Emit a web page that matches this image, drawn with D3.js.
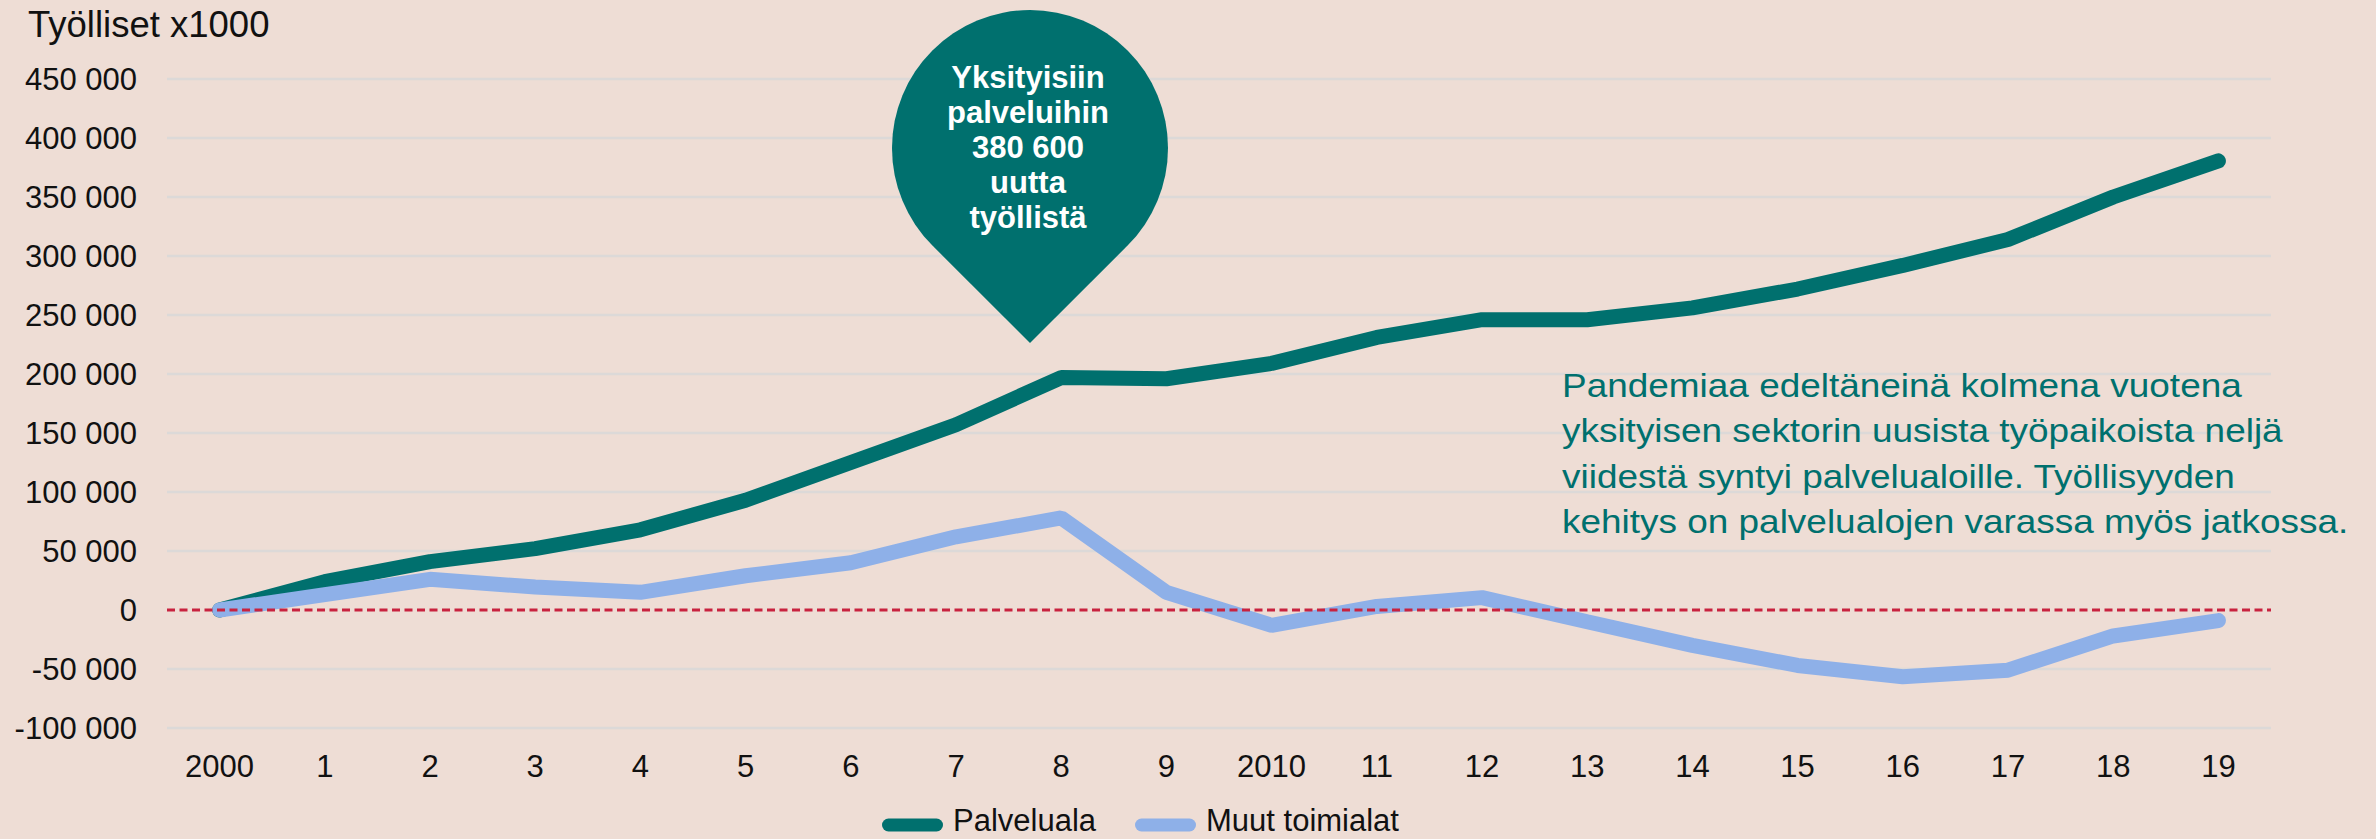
<!DOCTYPE html>
<html>
<head>
<meta charset="utf-8">
<script src="https://cdn.jsdelivr.net/npm/d3@7"></script>
<style>
  html, body { margin: 0; padding: 0; background: #EEDDD5; }
  svg { display: block; font-family: "Liberation Sans", Arial, sans-serif; }
</style>
</head>
<body>
<div id="chart"></div>
<script>
// Työlliset x1000: palveluala vs muut toimialat, muutos vuodesta 2000
const years = ["2000", "1", "2", "3", "4", "5", "6", "7", "8", "9",
               "2010", "11", "12", "13", "14", "15", "16", "17", "18", "19"];
const palveluala = [0, 24000, 41000, 52000, 68000, 93000, 125000, 157000, 197000, 196000,
                    209000, 231000, 246000, 246000, 256000, 272000, 292000, 314000, 350000, 380600];
const muut = [0, 13000, 26000, 19500, 15000, 29000, 40000, 62000, 78000, 15000,
              -13000, 3000, 10500, -10000, -30000, -47000, -56500, -51000, -22000, -9000];
const yTicks = [-100000, -50000, 0, 50000, 100000, 150000, 200000, 250000, 300000, 350000, 400000, 450000];
const seriesNames = ["Palveluala", "Muut toimialat"];
const pinLines = ["Yksityisiin", "palveluihin", "380 600", "uutta", "työllistä"];
const noteLines = [
  "Pandemiaa edeltäneinä kolmena vuotena",
  "yksityisen sektorin uusista työpaikoista neljä",
  "viidestä syntyi palvelualoille. Työllisyyden",
  "kehitys on palvelualojen varassa myös jatkossa."
];

const width = 2376;
const height = 839;
const teal = "#00706E";
const blue = "#8EB0E8";

const fi = d3.formatLocale({ decimal: ",", thousands: " ", grouping: [3], currency: ["", ""], minus: "-" });
const fmt = fi.format(",d");

const svg = d3.select("#chart")
    .append("svg")
    .attr("width", width)
    .attr("height", height);

svg.append("rect")
    .attr("width", width)
    .attr("height", height)
    .attr("fill", "#EEDDD5");

const x = d3.scalePoint()
    .domain(years)
    .range([167, 2271])
    .padding(0.5);

const y = d3.scaleLinear()
    .domain([-100000, 450000])
    .range([728, 79]);

// gridlines (zero line is drawn separately as dashed red)
svg.append("g")
    .selectAll("line")
    .data(yTicks.filter(d => d !== 0))
    .enter()
    .append("line")
    .attr("x1", 167)
    .attr("x2", 2271)
    .attr("y1", d => y(d))
    .attr("y2", d => y(d))
    .attr("stroke", "#DCD9D8")
    .attr("stroke-width", 2.5);

// y tick labels
svg.append("g")
    .selectAll("text")
    .data(yTicks)
    .enter()
    .append("text")
    .attr("x", 137)
    .attr("y", d => y(d))
    .attr("dy", "0.36em")
    .attr("text-anchor", "end")
    .attr("font-size", 31)
    .attr("fill", "#111")
    .text(d => fmt(d));

// x tick labels
svg.append("g")
    .selectAll("text")
    .data(years)
    .enter()
    .append("text")
    .attr("x", d => x(d))
    .attr("y", 777)
    .attr("text-anchor", "middle")
    .attr("font-size", 31)
    .attr("fill", "#111")
    .text(d => d);

// title
svg.append("text")
    .attr("x", 28)
    .attr("y", 37)
    .attr("font-size", 36.5)
    .attr("fill", "#111")
    .text("Työlliset x1000");

const line = d3.line()
    .x((d, i) => x(years[i]))
    .y(d => y(d));

svg.append("path")
    .datum(palveluala)
    .attr("d", line)
    .attr("fill", "none")
    .attr("stroke", teal)
    .attr("stroke-width", 15)
    .attr("stroke-linecap", "round")
    .attr("stroke-linejoin", "bevel");

svg.append("path")
    .datum(muut)
    .attr("d", line)
    .attr("fill", "none")
    .attr("stroke", blue)
    .attr("stroke-width", 15)
    .attr("stroke-linecap", "round")
    .attr("stroke-linejoin", "bevel");

// zero line
svg.append("line")
    .attr("x1", 167)
    .attr("x2", 2271)
    .attr("y1", y(0))
    .attr("y2", y(0))
    .attr("stroke", "#C8223F")
    .attr("stroke-width", 3)
    .attr("stroke-dasharray", "8 4.5");

// pin annotation
const pin = { cx: 1030, cy: 148, r: 138, tipY: 343 };
const s45 = Math.SQRT1_2;
const lx = pin.cx - pin.r * s45, rx = pin.cx + pin.r * s45, ty = pin.cy + pin.r * s45;
svg.append("path")
    .attr("d", `M${pin.cx},${pin.tipY} L${lx},${ty} A${pin.r},${pin.r} 0 1 1 ${rx},${ty} Z`)
    .attr("fill", teal);

svg.append("g")
    .selectAll("text")
    .data(pinLines)
    .enter()
    .append("text")
    .attr("x", 1028)
    .attr("y", (d, i) => 88 + i * 35)
    .attr("text-anchor", "middle")
    .attr("font-size", 31)
    .attr("font-weight", "bold")
    .attr("fill", "#fff")
    .text(d => d);

// note text
svg.append("g")
    .attr("transform", "translate(1562,0) scale(1.12,1)")
    .selectAll("text")
    .data(noteLines)
    .enter()
    .append("text")
    .attr("x", 0)
    .attr("y", (d, i) => 397 + i * 45.4)
    .attr("font-size", 33)
    .attr("fill", teal)
    .text(d => d);

// legend
const legend = svg.append("g");
const legendItems = [
  { name: seriesNames[0], color: teal, x0: 882, tx: 953 },
  { name: seriesNames[1], color: blue, x0: 1135, tx: 1206 }
];
legend.selectAll("line")
    .data(legendItems)
    .enter()
    .append("line")
    .attr("x1", d => d.x0 + 6.5)
    .attr("x2", d => d.x0 + 54.5)
    .attr("y1", 825)
    .attr("y2", 825)
    .attr("stroke", d => d.color)
    .attr("stroke-width", 13)
    .attr("stroke-linecap", "round");
legend.selectAll("text")
    .data(legendItems)
    .enter()
    .append("text")
    .attr("x", d => d.tx)
    .attr("y", 831)
    .attr("font-size", 31)
    .attr("fill", "#111")
    .text(d => d.name);
</script>
</body>
</html>
